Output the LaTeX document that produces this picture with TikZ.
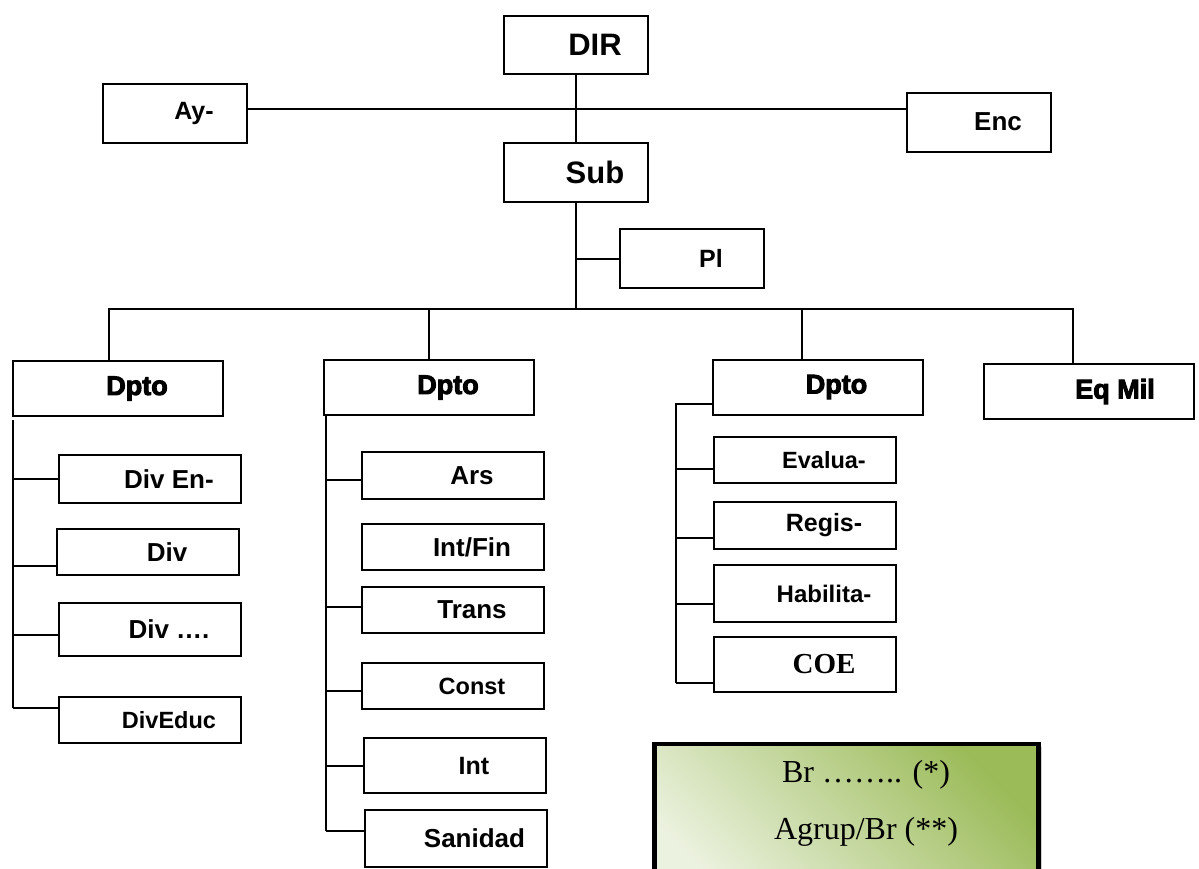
\documentclass[tikz,border=0pt]{standalone}
\usepackage{fontspec}
\setmainfont{Liberation Sans}
\newfontfamily\serifa{Liberation Serif}
\newfontfamily\negra[BoldFeatures={FakeBold=3.5}]{Liberation Sans}
\usetikzlibrary{shadows}

\definecolor{verdfosc}{RGB}{155,187,89}
\definecolor{verdclar}{RGB}{236,242,224}

\tikzset{
  caixa/.style={draw, line width=1pt, inner sep=0pt,
    font=\bfseries\fontsize{13pt}{15pt}\selectfont,
    execute at begin node=\hspace*{#1}},
  caixa/.default=19pt,
  gran/.style={caixa, minimum width=72pt, minimum height=29.5pt},
  dpto/.style={caixa=#1, minimum width=105pt, minimum height=27.5pt,
    font=\negra\bfseries\fontsize{13.5pt}{16pt}\selectfont},
  dpto/.default=19pt,
  seccio/.style={caixa, minimum width=91pt, minimum height=23pt},
  nota/.style={draw, line width=2.2pt, top color=verdfosc, bottom color=verdclar,
    shading angle=-45, drop shadow={shadow xshift=1.5pt, shadow yshift=-1.5pt, fill=black!35}},
  notatxt/.style={font=\serifa\fontsize{16pt}{19pt}\selectfont},
  fil/.style={line width=1pt}
}

\begin{document}
\begin{tikzpicture}[x=0.5pt, y=-0.5pt]
    \useasboundingbox (0,0) rectangle (1199,868);

    % Direccio i assessors
    \node[gran, minimum height=29pt, font=\bfseries\fontsize{15.5pt}{18pt}\selectfont] (dir) at (576,45) {DIR};
    \node[gran, font=\bfseries\fontsize{12.5pt}{15pt}\selectfont] (ay) at (175,113.5) {Ay-};
    \node[gran, font=\bfseries\fontsize{13pt}{15pt}\selectfont] (enc) at (979,122) {Enc};
    \node[gran, font=\bfseries\fontsize{15.5pt}{18pt}\selectfont] (sub) at (576,172.5) {Sub};
    \node[gran, font=\bfseries\fontsize{12.5pt}{15pt}\selectfont] (pl) at (692,258.5) {Pl};

    % Departaments
    \node[dpto] (dpA) at (118,388.5) {Dpto};
    \node[dpto] (dpB) at (429,387.5) {Dpto};
    \node[dpto] (dpC) at (817.5,387) {Dpto};
    \node[dpto=26pt] (eq) at (1089,391.5) {Eq Mil};

    % Seccions del primer departament
    \node[seccio, minimum height=24pt] (divEn) at (150,479) {Div En-};
    \node[seccio] (divB) at (148,552) {Div};
    \node[seccio, minimum height=26.5pt] (divDots) at (150,629.5) {Div ….};
    \node[seccio, font=\bfseries\fontsize{11.75pt}{14pt}\selectfont] (divEduc) at (150,720) {DivEduc};

    % Seccions del segon departament
    \node[seccio, minimum height=23.5pt] (ars) at (453,475.5) {Ars};
    \node[seccio] (intFin) at (453,547) {Int/Fin};
    \node[seccio] (trans) at (453,610) {Trans};
    \node[seccio, font=\bfseries\fontsize{11.75pt}{14pt}\selectfont] (const) at (453,686) {Const};
    \node[seccio, minimum height=27.5pt, font=\bfseries\fontsize{12.5pt}{15pt}\selectfont] (int) at (455,765.5) {Int};
    \node[seccio, minimum height=28.5pt] (sanidad) at (455.5,838.5) {Sanidad};

    % Seccions del tercer departament
    \node[seccio, font=\bfseries\fontsize{11.75pt}{14pt}\selectfont] (evalua) at (805,460) {Evalua-};
    \node[seccio, minimum height=23.5pt, font=\bfseries\fontsize{12.5pt}{15pt}\selectfont] (regis) at (805,525.5) {Regis-};
    \node[seccio, minimum height=28.5pt, font=\bfseries\fontsize{12pt}{14pt}\selectfont] (habilita) at (805,593.5) {Habilita-};
    \node[seccio, minimum height=27.5pt, font=\serifa\bfseries\fontsize{14.5pt}{17pt}\selectfont] (coe) at (805,664.5) {COE};

    % Quadre verd
    \node[nota, minimum width=192pt, minimum height=80pt, anchor=north] (brig) at (846.5,742) {};
    \node[notatxt] (brTxt) at (866,775) {Br …….. (*)};
    \node[notatxt] (agrupTxt) at (866,832) {Agrup/Br (**)};

    % Linies principals
    \coordinate (hj) at (576,109);
    \coordinate (mj) at (576,309);
    \draw[fil] (dir) -- (sub);
    \draw[fil] (ay.east |- hj) -- (enc.west |- hj);
    \draw[fil] (sub) -- (mj);
    \draw[fil] (pl.west -| sub.south) -- (pl.west);

    \coordinate (topA) at ([xshift=-4.5pt]dpA.north);
    \coordinate (topC) at ([xshift=-8pt]dpC.north);
    \coordinate (topE) at ([xshift=-8pt]eq.north);
    \draw[fil] (topA) |- (mj) -| (topE);
    \draw[fil] (dpB.north |- mj) -- (dpB.north);
    \draw[fil] (topC |- mj) -- (topC);

    % Barres laterals
    \coordinate (railA) at (13,420);
    \coordinate (railB) at (326,415);
    \coordinate (railC) at (676,403);
    \draw[fil] (railA) -- (13,708);
    \draw[fil] (railB) -- (326,831);
    \draw[fil] (railC) -- (676,683);

    \foreach \n/\dy in {divEn/0pt, divB/-7pt, divDots/-2.75pt, divEduc/6pt}{
        \coordinate (in\n) at ([yshift=\dy]\n.west);
        \draw[fil] (in\n -| railA) -- (in\n);
    }
    \foreach \n/\dy in {ars/-2.25pt, trans/1.5pt, const/-2.5pt, int/0pt, sanidad/3.75pt}{
        \coordinate (in\n) at ([yshift=\dy]\n.west);
        \draw[fil] (in\n -| railB) -- (in\n);
    }
    \foreach \n/\dy in {dpC/-8.5pt, evalua/-4.5pt, regis/-6.25pt, habilita/-5.25pt, coe/-9.25pt}{
        \coordinate (in\n) at ([yshift=\dy]\n.west);
        \draw[fil] (in\n -| railC) -- (in\n);
    }
\end{tikzpicture}
\end{document}
